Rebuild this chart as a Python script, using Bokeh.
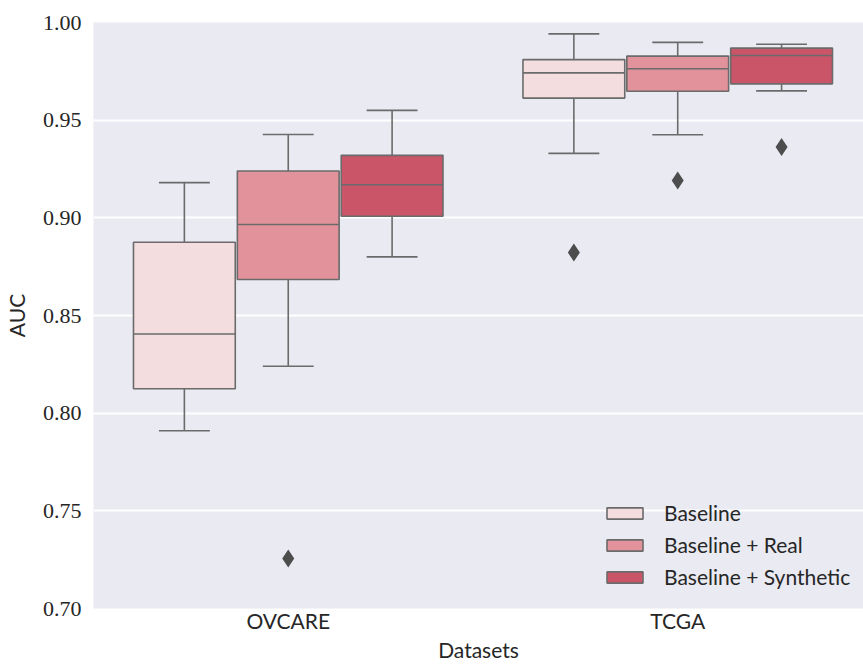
from bokeh.plotting import figure
from bokeh.models import ColumnDataSource, Range1d, FixedTicker, Legend, LegendItem, NumeralTickFormatter
from bokeh.transform import dodge
from bokeh.embed import file_html
from bokeh.resources import INLINE

# ---- data ----
datasets = ["OVCARE", "TCGA"]
series = ["Baseline", "Baseline + Real", "Baseline + Synthetic"]
colors = ["#F3DDDE", "#E2929A", "#CA5468"]

# per series: values for [OVCARE, TCGA]
lower_whisker = {"Baseline": [0.791, 0.933], "Baseline + Real": [0.824, 0.9425], "Baseline + Synthetic": [0.880, 0.965]}
q1 = {"Baseline": [0.8125, 0.9613], "Baseline + Real": [0.8684, 0.9648], "Baseline + Synthetic": [0.9008, 0.9686]}
median = {"Baseline": [0.8405, 0.9742], "Baseline + Real": [0.8966, 0.9763], "Baseline + Synthetic": [0.9169, 0.9831]}
q3 = {"Baseline": [0.8875, 0.981], "Baseline + Real": [0.924, 0.9828], "Baseline + Synthetic": [0.932, 0.9869]}
upper_whisker = {"Baseline": [0.918, 0.9942], "Baseline + Real": [0.9427, 0.9898], "Baseline + Synthetic": [0.955, 0.9889]}
# outliers: (dataset index, value)
outliers = {"Baseline": [(1, 0.8822)], "Baseline + Real": [(0, 0.7256), (1, 0.9191)], "Baseline + Synthetic": [(1, 0.9362)]}

y_ticks = [0.70, 0.75, 0.80, 0.85, 0.90, 0.95, 1.00]

EDGE = "#6b6b6b"
BG = "#EAEAF2"
SANS = "Lato"
SERIF = "Liberation Serif"

p = figure(width=863, height=664, output_backend="svg", toolbar_location=None,
           x_range=Range1d(-0.5, 1.477), y_range=Range1d(0.70, 1.00),
           min_border_left=90, min_border_right=0, min_border_top=22, min_border_bottom=40,
           background_fill_color=BG, border_fill_color="white", outline_line_color=None)

group_w = 0.8 / len(series)
box_w = group_w * 0.98
xpos = list(range(len(datasets)))

legend_items = []
for i, s in enumerate(series):
    off = (i - (len(series) - 1) / 2) * group_w
    src = ColumnDataSource(dict(x=xpos, lo=lower_whisker[s], q1=q1[s], med=median[s], q3=q3[s], hi=upper_whisker[s]))
    xd = dodge("x", off, range=p.x_range)
    p.segment(x0=xd, y0="lo", x1=xd, y1="q1", source=src, line_color=EDGE, line_width=1.6)
    p.segment(x0=xd, y0="q3", x1=xd, y1="hi", source=src, line_color=EDGE, line_width=1.6)
    p.segment(x0=dodge("x", off - box_w / 4, range=p.x_range), y0="lo",
              x1=dodge("x", off + box_w / 4, range=p.x_range), y1="lo", source=src, line_color=EDGE, line_width=1.6)
    p.segment(x0=dodge("x", off - box_w / 4, range=p.x_range), y0="hi",
              x1=dodge("x", off + box_w / 4, range=p.x_range), y1="hi", source=src, line_color=EDGE, line_width=1.6)
    r = p.vbar(x=xd, width=box_w, bottom="q1", top="q3", source=src, fill_color=colors[i],
               line_color=EDGE, line_width=1.6)
    legend_items.append(LegendItem(label=s, renderers=[r]))
    p.segment(x0=dodge("x", off - box_w / 2, range=p.x_range), y0="med",
              x1=dodge("x", off + box_w / 2, range=p.x_range), y1="med", source=src, line_color=EDGE, line_width=1.6)
    osrc = ColumnDataSource(dict(x=[o[0] for o in outliers[s]], y=[o[1] for o in outliers[s]]))
    p.scatter(x=dodge("x", off, range=p.x_range), y="y", source=osrc, marker="diamond", size=18,
              fill_color="#4d4d4d", line_color="#4d4d4d", line_width=0)

p.xgrid.grid_line_color = None
p.ygrid.grid_line_color = "white"
p.ygrid.grid_line_width = 2
p.ygrid.ticker = FixedTicker(ticks=y_ticks)

for ax in (p.xaxis[0], p.yaxis[0]):
    ax.axis_line_color = None
    ax.major_tick_line_color = None
    ax.minor_tick_line_color = None
    ax.major_tick_out = 0
    ax.major_tick_in = 0
    ax.major_label_text_color = "#262626"
    ax.axis_label_text_color = "#262626"
    ax.axis_label_text_font = SANS
    ax.axis_label_text_font_style = "normal"
    ax.axis_label_text_font_size = "21px"

p.yaxis.ticker = FixedTicker(ticks=y_ticks)
p.yaxis.formatter = NumeralTickFormatter(format="0.00")
p.yaxis.major_label_text_font = SERIF
p.yaxis.major_label_text_font_size = "22px"
p.yaxis.major_label_standoff = 12
p.yaxis.axis_label = "AUC"
p.yaxis.axis_label_standoff = 11

p.xaxis.ticker = FixedTicker(ticks=xpos)
p.xaxis.major_label_overrides = {i: d for i, d in enumerate(datasets)}
p.xaxis.major_label_text_font = SANS
p.xaxis.major_label_text_font_size = "21px"
p.xaxis.major_label_standoff = -1
p.xaxis.axis_label = "Datasets"
p.xaxis.axis_label_standoff = 1

legend = Legend(items=legend_items, location=(509, 19), orientation="vertical",
                background_fill_alpha=0, border_line_alpha=0,
                glyph_width=45, glyph_height=14, label_standoff=17,
                label_text_font=SANS, label_text_font_size="21px", label_text_color="#262626",
                label_height=20, spacing=7, padding=0, margin=0)
p.add_layout(legend)

open("out.html", "w").write(file_html(p, INLINE))
